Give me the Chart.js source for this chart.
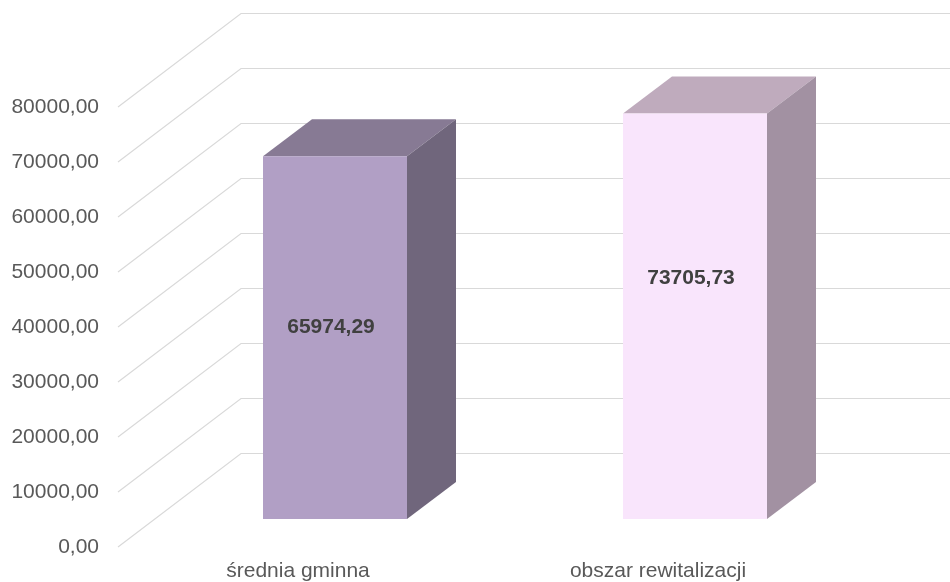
<!DOCTYPE html>
<html>
<head>
<meta charset="utf-8">
<script src="https://cdn.jsdelivr.net/npm/chart.js@4"></script>
<style>
	html, body { margin: 0; background: #fff; overflow: hidden; }
	canvas { display: block; }
</style>
</head>
<body>
<canvas id="chart" width="950" height="582"></canvas>
<script>
const categories = ['średnia gminna', 'obszar rewitalizacji'];
const values = [65974.29, 73705.73];
const frontColors = ['#b19fc5', '#f9e5fc'];
const topColors = ['#877a94', '#bfabbd'];
const sideColors = ['#70667c', '#a291a2'];
const labelShift = [-10, -38];

const yMax = 80000;
const yStep = 10000;

// 3D offsets, all relative to the plane the bars stand on
const wallLeft = 241, wallUp = 65.5;
const frontLeft = 118, frontDown = 28;
const depthX = 49, depthY = 37;

const formatValue = v => v.toFixed(2).replace('.', ',');

const box3d = {
	id: 'box3d',
	beforeDatasetsDraw(chart) {
		const ctx = chart.ctx;
		const y = chart.scales.y;

		ctx.save();
		ctx.strokeStyle = '#d9d9d9';
		ctx.lineWidth = 1.2;
		for(let v = 0; v <= yMax; v += yStep)
		{
			const py = y.getPixelForValue(v);
			ctx.beginPath();
			ctx.moveTo(frontLeft, py + frontDown);
			ctx.lineTo(wallLeft, py - wallUp);
			ctx.lineTo(chart.width, py - wallUp);
			ctx.stroke();
		}

		chart.getDatasetMeta(0).data.forEach((bar, i) => {
			const left = bar.x - bar.width / 2;
			const right = bar.x + bar.width / 2;

			ctx.fillStyle = topColors[i];
			ctx.beginPath();
			ctx.moveTo(left, bar.y);
			ctx.lineTo(left + depthX, bar.y - depthY);
			ctx.lineTo(right + depthX, bar.y - depthY);
			ctx.lineTo(right, bar.y);
			ctx.closePath();
			ctx.fill();

			ctx.fillStyle = sideColors[i];
			ctx.beginPath();
			ctx.moveTo(right, bar.y);
			ctx.lineTo(right + depthX, bar.y - depthY);
			ctx.lineTo(right + depthX, bar.base - depthY);
			ctx.lineTo(right, bar.base);
			ctx.closePath();
			ctx.fill();
		});
		ctx.restore();
	},
	afterDatasetsDraw(chart) {
		const ctx = chart.ctx;

		ctx.save();
		ctx.font = 'bold 21px "Liberation Sans"';
		ctx.fillStyle = '#404040';
		ctx.textAlign = 'center';
		ctx.textBaseline = 'middle';
		chart.getDatasetMeta(0).data.forEach((bar, i) => {
			ctx.fillText(formatValue(values[i]), bar.x - 4, (bar.y + bar.base) / 2 + labelShift[i]);
		});
		ctx.restore();
	},
};

new Chart(document.getElementById('chart'), {
	type: 'bar',
	data: {
		labels: categories,
		datasets: [
			{
				data: values,
				backgroundColor: frontColors,
				barPercentage: 0.4,
				categoryPercentage: 1,
			},
		],
	},
	options: {
		responsive: false,
		animation: false,
		layout: {
			padding: {left: 0, right: 75, top: 79, bottom: 0},
		},
		plugins: {
			legend: {display: false},
			tooltip: {enabled: false},
		},
		scales: {
			x: {
				grid: {display: false, drawTicks: false},
				border: {display: false},
				afterFit: scale => { scale.height = 63; },
				ticks: {
					color: '#595959',
					font: {family: '"Liberation Sans"', size: 21},
					padding: 40,
					labelOffset: -37,
					maxRotation: 0,
				},
			},
			y: {
				min: 0,
				max: yMax,
				grid: {display: false, drawTicks: false},
				border: {display: false},
				// the big tick padding would otherwise push the chart area up
				afterFit: scale => {
					scale.width = 155;
					scale.paddingBottom = 0;
				},
				ticks: {
					stepSize: yStep,
					color: '#595959',
					font: {family: '"Liberation Sans"', size: 21},
					padding: 56,
					labelOffset: frontDown,
					callback: value => formatValue(value),
				},
			},
		},
	},
	plugins: [box3d],
});
</script>
</body>
</html>
